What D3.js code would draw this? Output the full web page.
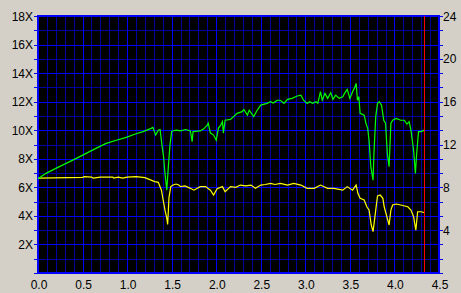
<!DOCTYPE html>
<html>
<head>
<meta charset="utf-8">
<script src="https://cdn.jsdelivr.net/npm/d3@7"></script>
<style>
  body { margin: 0; background: #d4d0c8; }
  svg { display: block; }
  text { font-family: "Liberation Sans", Arial, sans-serif; font-size: 12px; fill: #000; }
</style>
</head>
<body>
<div id="chart"></div>
<script>
// position on disc (x) and read speed (left axis, X)
var greenX = [0.00,0.09,0.20,0.315,0.43,0.54,0.65,0.765,0.88,0.99,1.10,1.18,1.27,1.29,1.32,1.35,1.37,1.39,1.41,1.42,1.435,1.445,
  1.46,1.48,1.50,1.51,1.55,1.60,1.655,1.71,1.73,1.74,1.82,1.86,1.90,1.91,1.935,1.97,2.00,2.025,2.05,2.07,2.08,2.10,2.16,2.235,
  2.29,2.31,2.35,2.37,2.42,2.46,2.50,2.57,2.61,2.64,2.685,2.72,2.76,2.80,2.85,2.91,2.95,2.98,3.02,3.05,3.08,3.12,3.14,3.17,
  3.19,3.22,3.25,3.285,3.31,3.34,3.38,3.42,3.44,3.47,3.50,3.53,3.55,3.57,3.585,3.60,3.615,3.66,3.68,3.70,3.715,3.735,3.76,
  3.77,3.79,3.81,3.83,3.855,3.88,3.90,3.92,3.94,3.96,3.98,4.02,4.07,4.11,4.14,4.165,4.185,4.215,4.235,4.25,4.27,4.30,4.33,4.34];
var greenY = [6.6,6.98,7.33,7.68,8.03,8.38,8.73,9.08,9.3,9.5,9.75,9.9,10.13,10.2,9.66,10.0,10.05,9.0,8.1,7.3,6.4,5.8,
  7.2,8.9,9.9,9.95,10.0,9.95,10.05,9.95,9.2,9.9,9.95,10.1,10.36,10.5,9.8,9.66,9.3,10.15,10.36,10.6,9.8,10.7,10.76,11.18,
  11.3,11.45,11.06,11.4,10.95,11.4,11.76,11.88,12.0,11.9,12.1,12.1,11.88,12.16,12.23,12.4,12.46,12.1,11.88,12.0,11.88,12.0,11.88,12.7,
  12.1,12.58,12.23,12.63,12.16,12.46,12.23,12.35,12.58,12.86,12.23,12.7,12.93,13.28,12.1,12.35,11.18,11.06,10.48,10.13,9.3,7.44,6.5,
  8.4,10.95,11.88,12.0,11.76,10.7,10.5,8.38,7.44,10.48,10.7,10.83,10.7,10.7,10.43,10.6,10.0,8.6,6.98,8.4,9.9,9.9,10.0,9.9];

// second trace (yellow)
var yellowX = [0.00,0.50,0.52,0.60,0.62,0.70,0.84,0.85,0.90,0.95,1.00,1.10,1.20,1.31,1.35,1.385,1.405,1.425,1.445,1.455,1.47,
  1.49,1.515,1.55,1.58,1.60,1.65,1.71,1.75,1.82,1.88,1.935,1.97,2.01,2.07,2.10,2.16,2.22,2.27,2.33,2.39,2.44,2.50,2.55,2.61,2.66,
  2.72,2.80,2.87,2.95,3.02,3.10,3.17,3.25,3.32,3.42,3.47,3.53,3.57,3.59,3.615,3.66,3.69,3.715,3.74,3.76,3.79,3.81,3.84,3.87,
  3.885,3.915,3.94,3.96,3.98,4.02,4.07,4.15,4.185,4.215,4.24,4.26,4.30,4.34];
var yellowY = [6.65,6.7,6.75,6.72,6.65,6.72,6.72,6.65,6.72,6.65,6.72,6.75,6.68,6.4,6.35,5.8,5.1,4.4,3.85,3.4,5.3,
  6.05,6.16,6.23,6.16,6.05,6.1,5.93,5.8,6.05,6.05,5.8,5.46,5.9,6.05,5.69,6.05,6.0,6.16,6.1,6.16,5.93,6.16,6.2,6.28,6.2,
  6.28,6.16,6.28,6.16,5.93,5.93,6.16,5.93,5.93,5.8,6.05,5.8,6.16,5.58,5.23,5.11,4.64,4.41,3.36,2.9,4.4,5.39,5.46,5.23,
  4.64,3.94,3.36,4.4,4.76,4.83,4.76,4.64,4.41,3.94,3.0,4.29,4.29,4.22];

var xTicks = [0, 0.5, 1.0, 1.5, 2.0, 2.5, 3.0, 3.5, 4.0, 4.5];
var leftTicks = [2, 4, 6, 8, 10, 12, 14, 16, 18];
var rightTicks = [4, 8, 12, 16, 20, 24];
var markerX = 4.33;

var width = 461, height = 293;
var x = d3.scaleLinear().domain([0, 4.5]).range([38, 439]);
var y = d3.scaleLinear().domain([0, 18]).range([273, 16]);
var y2 = d3.scaleLinear().domain([0, 24]).range([273, 16]);

var svg = d3.select("#chart").append("svg")
  .attr("width", width).attr("height", height);

svg.append("rect").attr("width", width).attr("height", height).attr("fill", "#d4d0c8");
svg.append("rect")
  .attr("x", x(0)).attr("y", y(18))
  .attr("width", x(4.5) - x(0)).attr("height", y(0) - y(18))
  .attr("fill", "#000");

var px = function(v) { return Math.round(v) + 0.5; };

// minor grid
var minorX = d3.range(1, 45).filter(function(i) { return i % 5 != 0; }).map(function(i) { return i / 10; });
var minorY = d3.range(1, 18).filter(function(i) { return i % 2 != 0; });
var grid = svg.append("g").attr("shape-rendering", "crispEdges");
grid.selectAll(".vmin").data(minorX).enter().append("line")
  .attr("x1", function(d) { return px(x(d)); }).attr("x2", function(d) { return px(x(d)); })
  .attr("y1", y(18)).attr("y2", y(0))
  .attr("stroke", "#0000a0");
grid.selectAll(".hmin").data(minorY).enter().append("line")
  .attr("x1", x(0)).attr("x2", x(4.5))
  .attr("y1", function(d) { return px(y(d)); }).attr("y2", function(d) { return px(y(d)); })
  .attr("stroke", "#0000a0");
// major grid
grid.selectAll(".vmaj").data(xTicks.slice(1, -1)).enter().append("line")
  .attr("x1", function(d) { return px(x(d)); }).attr("x2", function(d) { return px(x(d)); })
  .attr("y1", y(18)).attr("y2", y(0))
  .attr("stroke", "#0000ff");
grid.selectAll(".hmaj").data(leftTicks.slice(0, -1)).enter().append("line")
  .attr("x1", x(0)).attr("x2", x(4.5))
  .attr("y1", function(d) { return px(y(d)); }).attr("y2", function(d) { return px(y(d)); })
  .attr("stroke", "#0000ff");

// frame
svg.append("rect")
  .attr("x", x(0)).attr("y", y(18))
  .attr("width", x(4.5) - x(0)).attr("height", y(0) - y(18))
  .attr("fill", "none").attr("stroke", "#0000ff").attr("stroke-width", 2)
  .attr("shape-rendering", "crispEdges");

// side ticks on every 1X line
var allY = d3.range(0, 19);
grid.selectAll(".lt").data(allY).enter().append("line")
  .attr("x1", x(0) - 4).attr("x2", x(0))
  .attr("y1", function(d) { return px(y(d)); }).attr("y2", function(d) { return px(y(d)); })
  .attr("stroke", "#0000ff");
grid.selectAll(".rt").data(allY).enter().append("line")
  .attr("x1", x(4.5)).attr("x2", x(4.5) + 4)
  .attr("y1", function(d) { return px(y(d)); }).attr("y2", function(d) { return px(y(d)); })
  .attr("stroke", "#0000ff");

// curves
var line = d3.line().x(function(d) { return x(d[0]); }).y(function(d) { return y(d[1]); });
svg.append("path").datum(d3.zip(yellowX, yellowY))
  .attr("d", line).attr("fill", "none").attr("stroke", "#ffff00").attr("stroke-width", 1.2);
svg.append("path").datum(d3.zip(greenX, greenY))
  .attr("d", line).attr("fill", "none").attr("stroke", "#00ff00").attr("stroke-width", 1.2);

// position marker
svg.append("line")
  .attr("x1", px(x(markerX))).attr("x2", px(x(markerX)))
  .attr("y1", y(18)).attr("y2", y(0) - 1)
  .attr("stroke", "#ff0000").attr("shape-rendering", "crispEdges");

// labels
svg.selectAll(".xl").data(xTicks).enter().append("text")
  .attr("x", function(d) { return x(d) + 1; }).attr("y", 289)
  .attr("text-anchor", "middle")
  .text(function(d) { return d.toFixed(1); });
svg.selectAll(".yl").data(leftTicks).enter().append("text")
  .attr("x", 33).attr("y", function(d) { return y(d) + 4.5; })
  .attr("text-anchor", "end")
  .text(function(d) { return d + "X"; });
svg.selectAll(".y2l").data(rightTicks).enter().append("text")
  .attr("x", 443).attr("y", function(d) { return y2(d) + 4.5; })
  .text(function(d) { return d; });
</script>
</body>
</html>
